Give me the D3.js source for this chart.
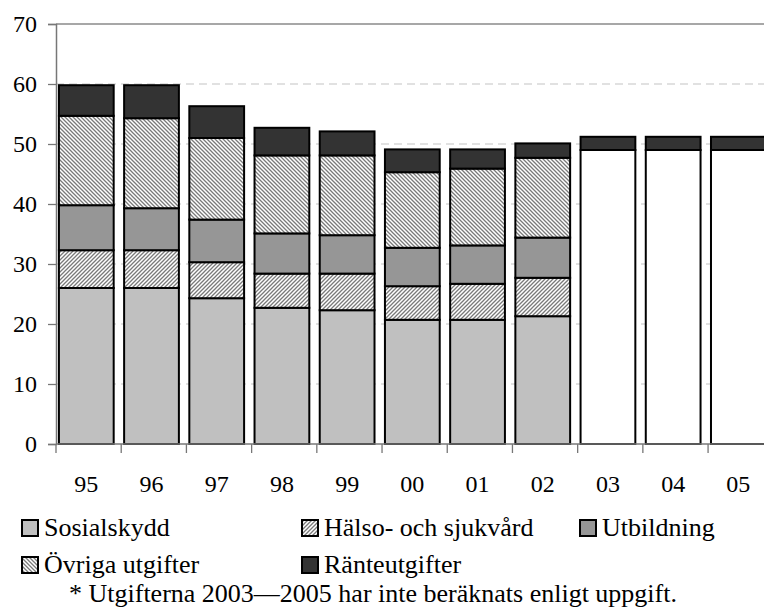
<!DOCTYPE html>
<html>
<head>
<meta charset="utf-8">
<script src="https://cdn.jsdelivr.net/npm/d3@7"></script>
</head>
<body style="margin:0;background:#fff">
<script>
// ---- data ----
const categories = ["95","96","97","98","99","00","01","02","03","04","05"];
const sosialskydd   = [26.0, 26.0, 24.3, 22.7, 22.3, 20.7, 20.7, 21.3, 0, 0, 0];
const halso         = [ 6.3,  6.3,  6.0,  5.7,  6.1,  5.6,  6.0,  6.4, 0, 0, 0];
const utbildning    = [ 7.5,  7.0,  7.1,  6.7,  6.4,  6.4,  6.4,  6.7, 0, 0, 0];
const ovriga        = [14.9, 15.0, 13.6, 13.0, 13.3, 12.6, 12.8, 13.3, 0, 0, 0];
const ejBeraknat    = [ 0,    0,    0,    0,    0,    0,    0,    0,  49.0, 49.0, 49.0];
const ranteutgifter = [ 5.1,  5.5,  5.3,  4.6,  4.0,  3.8,  3.2,  2.4, 2.2, 2.2, 2.2];
const yTicks = [0, 10, 20, 30, 40, 50, 60, 70];
const seriesNames = ["Sosialskydd", "Hälso- och sjukvård", "Utbildning", "Övriga utgifter", "Ej beräknat", "Ränteutgifter"];
const legendNames = ["Sosialskydd", "Hälso- och sjukvård", "Utbildning", "Övriga utgifter", "Ränteutgifter"];
const footnote = "* Utgifterna 2003\u20142005 har inte beräknats enligt uppgift.";

const FONT = "Liberation Serif";
const W = 764, H = 608;
const svg = d3.select("body").append("svg").attr("width", W).attr("height", H)
  .style("display", "block");

// patterns
const defs = svg.append("defs");
function stripe(id, dir) {
  const p = defs.append("pattern").attr("id", id).attr("patternUnits", "userSpaceOnUse")
    .attr("width", 4).attr("height", 4);
  p.append("rect").attr("width", 4).attr("height", 4).attr("fill", "#fff");
  if (dir === "fwd") {
    p.append("path").attr("d", "M-1,1 l2,-2 M0,4 l4,-4 M3,5 l2,-2")
      .attr("stroke", "#7a7a7a").attr("stroke-width", 1.3);
  } else {
    p.append("path").attr("d", "M-1,3 l2,2 M0,0 l4,4 M3,-1 l2,2")
      .attr("stroke", "#7a7a7a").attr("stroke-width", 1.3);
  }
}
stripe("pHalso", "fwd");
stripe("pOvriga", "back");

const fills = {
  "Sosialskydd": "#c0c0c0",
  "Hälso- och sjukvård": "url(#pHalso)",
  "Utbildning": "#969696",
  "Övriga utgifter": "url(#pOvriga)",
  "Ej beräknat": "#ffffff",
  "Ränteutgifter": "#333333"
};

const x0 = 56, yTop = 24, yBot = 444;
const x = d3.scaleBand().domain(categories).range([x0, x0 + 11 * 64.97]).paddingInner(0.16).paddingOuter(0.06);
const y = d3.scaleLinear().domain([0, 70]).range([yBot, yTop]);

// gridlines
const grid = svg.append("g");
grid.selectAll("line").data(yTicks.filter(t => t > 0 && t < 70)).join("line")
  .attr("x1", x0).attr("x2", W).attr("y1", d => y(d)).attr("y2", d => y(d))
  .attr("stroke", "#c4c4c4").attr("stroke-width", 1.2).attr("stroke-dasharray", "8,5");
grid.append("line").attr("x1", x0).attr("x2", W).attr("y1", y(70)).attr("y2", y(70))
  .attr("stroke", "#8a8a8a").attr("stroke-width", 1.3);

// stacked data
const table = categories.map((c, i) => ({
  cat: c,
  "Sosialskydd": sosialskydd[i],
  "Hälso- och sjukvård": halso[i],
  "Utbildning": utbildning[i],
  "Övriga utgifter": ovriga[i],
  "Ej beräknat": ejBeraknat[i],
  "Ränteutgifter": ranteutgifter[i]
}));
const stack = d3.stack().keys(seriesNames)(table);

const bars = svg.append("g");
stack.forEach(layer => {
  bars.append("g").selectAll("rect")
    .data(layer.filter(d => d[1] - d[0] > 0))
    .join("rect")
    .attr("x", d => x(d.data.cat) - 1)
    .attr("width", x.bandwidth())
    .attr("y", d => y(d[1]))
    .attr("height", d => y(d[0]) - y(d[1]))
    .attr("fill", fills[layer.key])
    .attr("stroke", "#000").attr("stroke-width", 2);
});

// y axis
const yAxis = svg.append("g").attr("transform", `translate(${x0},0)`)
  .call(d3.axisLeft(y).tickValues(yTicks).tickSize(8).tickPadding(11).tickFormat(d3.format("d")));
yAxis.attr("font-family", FONT).attr("font-size", 24);
yAxis.select(".domain").attr("stroke", "#777").attr("stroke-width", 1.5);
yAxis.selectAll(".tick line").attr("stroke", "#777").attr("stroke-width", 1.3);
yAxis.selectAll("text").attr("fill", "#000").attr("font-family", FONT).attr("font-size", 24);

// x axis
const xAxis = svg.append("g").attr("transform", `translate(0,${yBot})`);
xAxis.append("line").attr("x1", x0).attr("x2", W).attr("stroke", "#777").attr("stroke-width", 1.3);
const bounds = d3.range(categories.length + 1).map(i => x0 + i * x.step());
xAxis.selectAll("line.t").data(bounds).join("line").attr("class", "t")
  .attr("x1", d => d).attr("x2", d => d).attr("y1", 0).attr("y2", 9)
  .attr("stroke", "#777").attr("stroke-width", 1.3);
xAxis.selectAll("text").data(categories).join("text")
  .attr("x", d => x(d) + x.bandwidth() / 2 - 1)
  .attr("y", 48)
  .attr("text-anchor", "middle")
  .attr("font-family", FONT).attr("font-size", 24)
  .text(d => d);

// legend
const legendPos = [[22, 528], [302, 528], [580, 528], [22, 565], [302, 565]];
const lg = svg.append("g");
legendNames.forEach((name, i) => {
  const [lx, ly] = legendPos[i];
  lg.append("rect").attr("x", lx).attr("y", ly - 8).attr("width", 16).attr("height", 16)
    .attr("fill", fills[name]).attr("stroke", "#000").attr("stroke-width", 2);
  lg.append("text").attr("x", lx + 22).attr("y", ly + 8)
    .attr("font-family", FONT).attr("font-size", 26).text(name);
});

svg.append("text").attr("x", 69).attr("y", 602)
  .attr("font-family", FONT).attr("font-size", 26).text(footnote);
</script>
</body>
</html>
